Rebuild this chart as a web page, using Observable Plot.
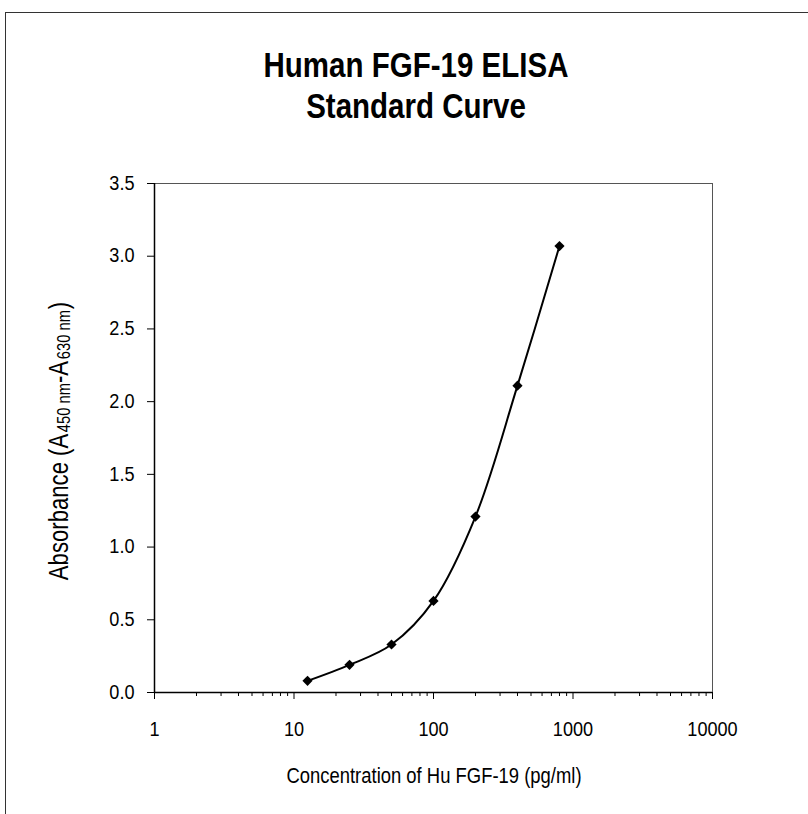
<!DOCTYPE html>
<html><head><meta charset="utf-8">
<script src="https://cdn.jsdelivr.net/npm/d3@7"></script>
<script src="https://cdn.jsdelivr.net/npm/@observablehq/plot@0.6"></script>
<style>
html,body{margin:0;padding:0;background:#fff;}
#wrap{position:relative;width:808px;height:814px;overflow:hidden;background:#fff;}
#border{position:absolute;left:5px;top:12px;width:900px;height:900px;border:1.5px solid #333;box-sizing:border-box;}
#wrap svg{position:absolute;left:0;top:0;}
</style></head><body><div id="wrap"><div id="border"></div></div>
<script>
// ---- data ----
const concentrations = [12.5, 25, 50, 100, 200, 400, 800];
const absorbance = [0.08, 0.19, 0.33, 0.63, 1.21, 2.11, 3.07];
const xMajorTicks = [1, 10, 100, 1000, 10000];
const xMinorMultipliers = [2, 3, 4, 5, 6, 7, 8, 9];
const yTicks = [0, 0.5, 1.0, 1.5, 2.0, 2.5, 3.0, 3.5];
const titleLines = ["Human FGF-19 ELISA", "Standard Curve"];
const xLabel = "Concentration of Hu FGF-19 (pg/ml)";
const yLabelParts = [["Absorbance (A", false], ["450 nm", true], ["-A", false], ["630 nm", true], [")", false]];

// ---- build ----
const data = concentrations.map((c, i) => ({c, a: absorbance[i]}));
const xMinorTicks = xMajorTicks.slice(0, -1).flatMap(d => xMinorMultipliers.map(m => d * m));
const font = "'Liberation Sans',Arial,sans-serif";
const SX = 0.82;      // narrow horizontal compression for title and axis labels
const SX_TICK = 0.93; // slight compression for tick labels

function squeeze(el, sx) {
  const t = el.getAttribute("transform") || "";
  const x = +el.getAttribute("x") || 0;
  const y = +el.getAttribute("y") || 0;
  el.setAttribute("transform", `${t} translate(${x},${y}) scale(${sx},1) translate(${-x},${-y})`);
}

const chart = Plot.plot({
  width: 808, height: 814,
  marginLeft: 154, marginRight: 96, marginTop: 183, marginBottom: 122,
  style: {fontFamily: font, fontSize: "19.5px", color: "#000", background: "transparent"},
  x: {type: "log", domain: [1, 10000]},
  y: {domain: [0, 3.5]},
  marks: [
    Plot.frame({stroke: "#555", strokeWidth: 1}),
    Plot.axisX(xMinorTicks, {tickSize: 4, tickFormat: () => "", label: null, stroke: "#000"}),
    Plot.axisX(xMajorTicks, {tickSize: 7, tickPadding: 23, tickFormat: d => String(d), label: null, stroke: "#000", fill: "#000"}),
    Plot.axisY(yTicks, {tickSize: 7, tickPadding: 13, tickFormat: d3.format(".1f"), label: null, stroke: "#000", fill: "#000"}),
    Plot.ruleY([0], {stroke: "#000", strokeWidth: 1.5}),
    Plot.ruleX([1], {stroke: "#000", strokeWidth: 1.5}),
    Plot.line(data, {x: "c", y: "a", curve: "catmull-rom", stroke: "#000", strokeWidth: 2}),
    Plot.dot(data, {x: "c", y: "a", symbol: "diamond2", r: 4.6, fill: "#000", stroke: "none"})
  ]
});

const svg = d3.select(chart);
// compress tick labels slightly
svg.selectAll('g[aria-label$="tick label"] text').each(function() { squeeze(this, SX_TICK); });

// title
titleLines.forEach((t, i) => {
  svg.append("text")
    .attr("transform", `translate(416,${77 + i * 41}) scale(${SX},1)`)
    .attr("text-anchor", "middle")
    .style("font-family", font).style("font-weight", "bold").style("font-size", "36px")
    .attr("fill", "#000").text(t);
});
// x label
svg.append("text")
  .attr("transform", `translate(434,783) scale(${SX},1)`)
  .attr("text-anchor", "middle")
  .style("font-family", font).style("font-size", "22.5px")
  .attr("fill", "#000").text(xLabel);
// y label (rotated, compressed along its reading direction)
const yl = svg.append("text")
  .attr("transform", `translate(68,441) rotate(-90) scale(${SX},1)`)
  .attr("text-anchor", "middle")
  .style("font-family", font).style("font-size", "27px")
  .attr("fill", "#000");
const gaps = [0, 2, 0, 2, 1];
yLabelParts.forEach(([t, sub], i) => {
  const ts = yl.append("tspan").text(t);
  if (gaps[i]) ts.attr("dx", gaps[i]);
  if (sub) ts.style("font-size", "18px").attr("dy", 2);
  else if (i > 0) ts.attr("dy", -2);
});
document.getElementById("wrap").appendChild(chart);
</script>
</body></html>
